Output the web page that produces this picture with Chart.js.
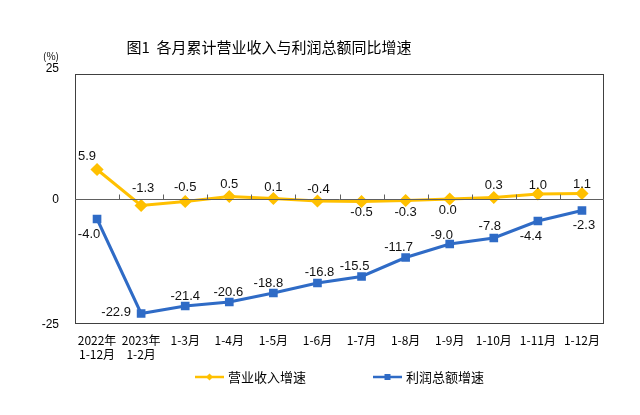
<!DOCTYPE html>
<html>
<head>
<meta charset="utf-8">
<script src="https://cdn.jsdelivr.net/npm/chart.js@4"></script>
<style>
  html, body { margin: 0; padding: 0; background: #fff; }
  #wrap { width: 640px; height: 415px; }
</style>
</head>
<body>
<div id="wrap"><canvas id="chart" width="640" height="415"></canvas></div>
<script>
const categories = [['2022年', '1-12月'], ['2023年', '1-2月'], '1-3月', '1-4月', '1-5月', '1-6月', '1-7月', '1-8月', '1-9月', '1-10月', '1-11月', '1-12月'];
const revenueGrowth = [5.9, -1.3, -0.5, 0.5, 0.1, -0.4, -0.5, -0.3, 0.0, 0.3, 1.0, 1.1];
const profitGrowth = [-4.0, -22.9, -21.4, -20.6, -18.8, -16.8, -15.5, -11.7, -9.0, -7.8, -4.4, -2.3];
const yTicks = [25, 0, -25];

// label offsets (dx, dy) from each point
const revenueLabelOffsets = [[-10, -13], [2, -17], [0, -14], [0, -12], [0, -11], [1, -12], [0, 11], [0, 12], [-2, 11], [0, -12], [0, -9], [0, -9]];
const profitLabelOffsets = [[-8, 15], [-25, -1], [0, -10], [-1, -10], [-5, -10], [2, -11], [-7, -10], [-7, -10], [-8, -9], [-4, -12], [-7, 15], [2, 15]];

const YELLOW = '#FFC000';
const BLUE = '#2F6BC6';
const CJK = '"Noto Sans CJK SC", sans-serif';

const decorPlugin = {
    id: 'decor',
    afterDraw(chart) {
        const ctx = chart.ctx;
        const area = chart.chartArea;
        const x = chart.scales.x;
        const y = chart.scales.y;
        ctx.save();

        // title
        ctx.fillStyle = '#000';
        ctx.font = '15px ' + CJK;
        ctx.textAlign = 'center';
        ctx.textBaseline = 'middle';
        ctx.fillText('图1  各月累计营业收入与利润总额同比增速', 269, 47);

        // unit
        ctx.font = '10px ' + CJK;
        ctx.fillText('(%)', 51, 56);

        // y tick labels (top one sits a bit above the frame)
        ctx.font = '12px "Liberation Sans", Arial, sans-serif';
        ctx.textAlign = 'right';
        yTicks.forEach(v => {
            const py = y.getPixelForValue(v) + (v === y.max ? -5 : 1);
            ctx.fillText(String(v), 59, py);
        });

        // box
        ctx.strokeStyle = '#404040';
        ctx.lineWidth = 1;
        ctx.strokeRect(area.left + 0.5, area.top + 0.5, area.right - area.left - 1, area.bottom - area.top - 1);

        // zero line with category ticks
        const y0 = Math.round(y.getPixelForValue(0)) + 0.5;
        ctx.strokeStyle = '#606060';
        ctx.beginPath();
        ctx.moveTo(area.left, y0);
        ctx.lineTo(area.right, y0);
        for (let i = 0; i < categories.length - 1; i++) {
            const bx = Math.round((x.getPixelForValue(i) + x.getPixelForValue(i + 1)) / 2) + 0.5;
            ctx.moveTo(bx, y0);
            ctx.lineTo(bx, y0 - 5);
        }
        ctx.stroke();

        // legend
        const legend = [
            { label: '营业收入增速', color: YELLOW, style: 'diamond', x: 195 },
            { label: '利润总额增速', color: BLUE, style: 'square', x: 373 }
        ];
        const ly = 377;
        legend.forEach(item => {
            ctx.strokeStyle = item.color;
            ctx.fillStyle = item.color;
            ctx.lineWidth = 2.5;
            ctx.beginPath();
            ctx.moveTo(item.x, ly);
            ctx.lineTo(item.x + 29, ly);
            ctx.stroke();
            const cx = item.x + 14.5;
            ctx.beginPath();
            if (item.style === 'diamond') {
                ctx.moveTo(cx, ly - 3.5);
                ctx.lineTo(cx + 3.5, ly);
                ctx.lineTo(cx, ly + 3.5);
                ctx.lineTo(cx - 3.5, ly);
                ctx.closePath();
            } else {
                ctx.rect(cx - 3, ly - 3, 6, 6);
            }
            ctx.fill();
            ctx.fillStyle = '#000';
            ctx.font = '13px ' + CJK;
            ctx.textAlign = 'left';
            ctx.fillText(item.label, item.x + 33, ly);
        });

        // data labels
        ctx.font = '13px "Liberation Sans", Arial, sans-serif';
        ctx.textAlign = 'center';
        ctx.fillStyle = '#111';
        const sets = [
            { meta: chart.getDatasetMeta(0), values: revenueGrowth, offsets: revenueLabelOffsets },
            { meta: chart.getDatasetMeta(1), values: profitGrowth, offsets: profitLabelOffsets }
        ];
        sets.forEach(s => {
            s.meta.data.forEach((pt, i) => {
                ctx.fillText(s.values[i].toFixed(1), pt.x + s.offsets[i][0], pt.y + s.offsets[i][1]);
            });
        });

        ctx.restore();
    }
};

new Chart(document.getElementById('chart'), {
    type: 'line',
    data: {
        labels: categories,
        datasets: [
            {
                label: '营业收入增速',
                data: revenueGrowth,
                borderColor: YELLOW,
                backgroundColor: YELLOW,
                borderWidth: 3,
                pointStyle: 'rectRot',
                pointRadius: 4.5,
                tension: 0
            },
            {
                label: '利润总额增速',
                data: profitGrowth,
                borderColor: BLUE,
                backgroundColor: BLUE,
                borderWidth: 3,
                pointStyle: 'rect',
                pointRadius: 4,
                tension: 0
            }
        ]
    },
    options: {
        responsive: false,
        animation: false,
        layout: { padding: { left: 0, right: 36, top: 74, bottom: 0 } },
        plugins: {
            legend: { display: false },
            title: { display: false },
            tooltip: { enabled: false }
        },
        scales: {
            x: {
                offset: true,
                grid: { display: false },
                border: { display: false },
                ticks: {
                    color: '#000',
                    font: { size: 12, family: CJK },
                    padding: 1,
                    maxRotation: 0,
                    autoSkip: false
                },
                afterFit(scale) { scale.height = 91; }
            },
            y: {
                min: -25,
                max: 25,
                grid: { display: false },
                border: { display: false },
                afterBuildTicks(scale) { scale.ticks = yTicks.map(v => ({ value: v })); },
                ticks: { display: false },
                afterFit(scale) { scale.width = 75; }
            }
        }
    },
    plugins: [decorPlugin]
});
</script>
</body>
</html>
